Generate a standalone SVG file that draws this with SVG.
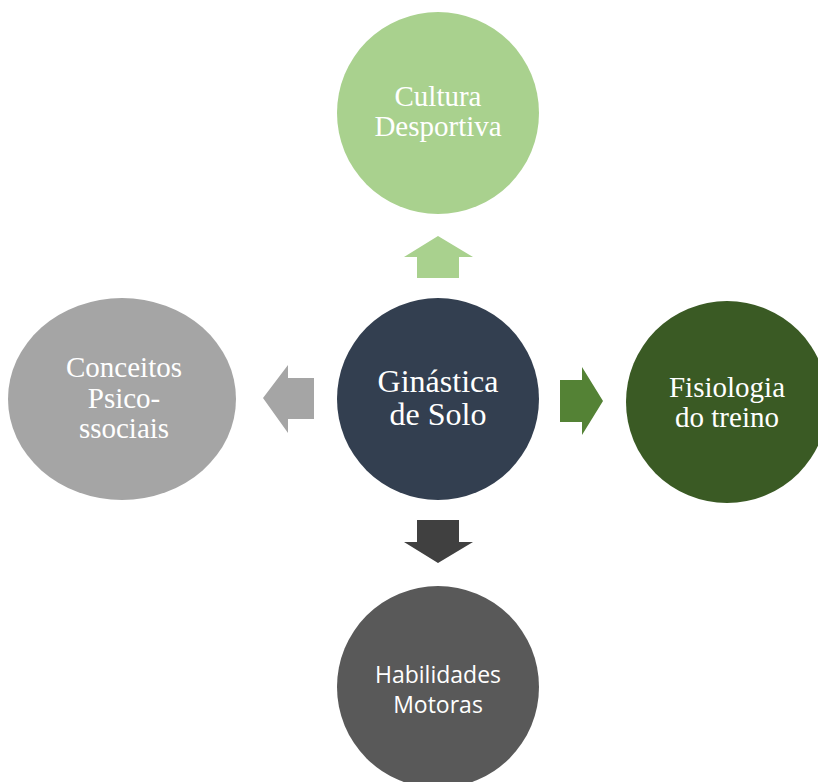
<svg xmlns="http://www.w3.org/2000/svg" width="818" height="782" viewBox="0 0 818 782">
<style>
.t{font-family:"Liberation Serif","Times New Roman",serif;font-size:29px;fill:#ffffff;text-anchor:middle}
.c{font-size:32px}
.s{font-family:"Open Sans","Liberation Sans",sans-serif;font-size:23px;fill:#ffffff;text-anchor:middle}
</style>
<rect width="818" height="782" fill="#ffffff"/>
<g id="connectors">
<polygon points="438,236 473,257 459,257 459,278 417,278 417,257 404,257" fill="#A9D18E"/>
<polygon points="603,401 582,435 582,422 560,422 560,380 582,380 582,367" fill="#548235"/>
<polygon points="263,398 288,365 288,378 314,378 314,419 288,419 288,433" fill="#A5A5A5"/>
<polygon points="438,563 473,542 459,542 459,520 417,520 417,542 404,542" fill="#404040"/>
</g>
<g id="node-center">
<circle cx="438" cy="399" r="101" fill="#333F50"/>
<text class="t c" x="438" y="392">Ginástica</text>
<text class="t c" x="438" y="425">de Solo</text>
</g>
<g id="node-top">
<circle cx="438" cy="113" r="101" fill="#A9D18E"/>
<text class="t" x="438" y="106">Cultura</text>
<text class="t" x="438" y="136">Desportiva</text>
</g>
<g id="node-right">
<circle cx="727" cy="402" r="101" fill="#3A5A24"/>
<text class="t" x="727" y="397">Fisiologia</text>
<text class="t" x="727" y="427">do treino</text>
</g>
<g id="node-left">
<ellipse cx="122" cy="399" rx="114" ry="101" fill="#A5A5A5"/>
<text class="t" x="124" y="377">Conceitos</text>
<text class="t" x="124" y="408">Psico-</text>
<text class="t" x="124" y="438">ssociais</text>
</g>
<g id="node-bottom">
<circle cx="438" cy="687" r="101" fill="#595959"/>
<text class="s" x="438" y="683">Habilidades</text>
<text class="s" x="438" y="713">Motoras</text>
</g>
</svg>
